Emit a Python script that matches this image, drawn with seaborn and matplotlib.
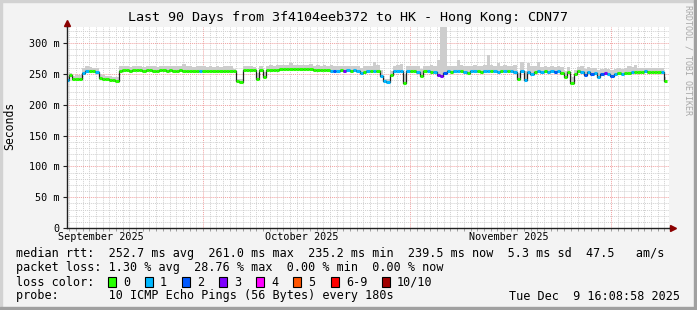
import numpy as np
import pandas as pd
import matplotlib
matplotlib.use("Agg")
import matplotlib.pyplot as plt
import matplotlib.dates as mdates
from matplotlib.ticker import MultipleLocator, FuncFormatter, NullFormatter
from matplotlib.patches import Rectangle
import seaborn as sns

# ---------------- data ----------------
START = pd.Timestamp("2025-09-10 16:08:58")
END = pd.Timestamp("2025-12-09 16:08:58")
STEP = "12h"

median_ms = [
    240, 248, 241, 242, 242, 252, 254, 255, 254, 253,
    244, 242, 241, 240, 240, 239, 255, 256, 256, 255,
    256, 256, 256, 255, 256, 256, 255, 255, 256, 256,
    255, 256, 255, 255, 256, 255, 254, 255, 255, 255,
    254, 254, 255, 255, 255, 255, 255, 255, 255, 255,
    254, 238, 237, 256, 256, 256, 256, 241, 256, 245,
    257, 257, 257, 257, 258, 258, 258, 258, 258, 258,
    258, 258, 258, 258, 257, 257, 257, 257, 257, 255,
    254, 255, 256, 254, 256, 255, 256, 254, 251, 253,
    255, 255, 255, 254, 246, 238, 237, 248, 254, 255,
    255, 235, 254, 255, 254, 253, 246, 254, 254, 253,
    253, 248, 247, 251, 254, 253, 254, 255, 254, 253,
    252, 254, 255, 254, 253, 254, 254, 255, 254, 253,
    254, 254, 255, 254, 253, 241, 254, 240, 253, 250,
    253, 254, 253, 254, 253, 254, 253, 254, 252, 245,
    253, 235, 249, 254, 253, 248, 253, 250, 252, 245,
    249, 252, 250, 246, 250, 251, 250, 252, 252, 253,
    253, 253, 253, 254, 253, 253, 253, 253, 253, 239,
]

loss_code = [
    1, 0, 0, 0, 0, 1, 1, 0, 0, 1,
    0, 0, 0, 0, 0, 0, 0, 0, 0, 0,
    0, 0, 0, 0, 0, 0, 0, 0, 0, 0,
    0, 0, 0, 0, 0, 0, 0, 0, 0, 0,
    1, 0, 0, 0, 0, 0, 0, 0, 0, 0,
    0, 0, 0, 0, 0, 0, 0, 0, 0, 0,
    0, 0, 0, 0, 0, 0, 0, 0, 0, 0,
    0, 0, 0, 0, 0, 0, 0, 0, 0, 1,
    2, 1, 0, 3, 1, 0, 1, 1, 1, 0,
    1, 0, 1, 0, 1, 1, 1, 0, 1, 1,
    1, 0, 1, 0, 0, 1, 0, 0, 1, 0,
    1, 3, 3, 2, 1, 0, 1, 1, 0, 1,
    0, 1, 1, 0, 0, 1, 1, 0, 1, 1,
    0, 1, 0, 1, 1, 0, 1, 1, 1, 1,
    0, 1, 1, 0, 1, 1, 2, 1, 0, 0,
    0, 0, 0, 0, 1, 2, 1, 2, 1, 1,
    2, 3, 1, 2, 1, 0, 1, 0, 0, 1,
    0, 0, 0, 1, 0, 0, 0, 0, 1, 0,
]

smoke_hi_ms = [
    246, 252, 247, 248, 248, 259, 262, 261, 260, 259,
    250, 248, 247, 246, 245, 245, 262, 263, 262, 261,
    262, 263, 262, 261, 262, 263, 262, 261, 262, 263,
    262, 262, 263, 262, 262, 266, 263, 262, 261, 262,
    263, 262, 261, 262, 261, 262, 261, 263, 262, 262,
    258, 241, 241, 262, 263, 262, 261, 252, 263, 253,
    263, 264, 263, 264, 265, 264, 265, 268, 264, 264,
    265, 264, 264, 266, 263, 264, 263, 264, 262, 264,
    263, 262, 263, 262, 263, 262, 263, 262, 260, 262,
    263, 262, 270, 265, 256, 242, 241, 254, 263, 264,
    266, 250, 262, 263, 262, 263, 258, 262, 263, 265,
    263, 272, 330, 330, 263, 262, 263, 272, 264, 263,
    262, 263, 264, 263, 262, 264, 281, 264, 263, 268,
    263, 264, 263, 262, 264, 252, 270, 255, 268, 262,
    262, 270, 261, 262, 261, 262, 261, 262, 261, 255,
    261, 245, 256, 261, 262, 258, 261, 259, 260, 256,
    258, 260, 258, 256, 258, 259, 258, 259, 262, 261,
    264, 260, 259, 260, 259, 260, 259, 260, 259, 245,
]

loss_labels = ["0", "1", "2", "3", "4", "5", "6-9", "10/10"]
loss_colors = ["#26ff00", "#00b8ff", "#0059ff", "#7e00ff", "#ff00ff",
               "#ff5500", "#ff0000", "#a10000"]

y_ticks_ms = [0, 50, 100, 150, 200, 250, 300]
month_labels = ["September 2025", "October 2025", "November 2025"]
month_label_pos = ["2025-09-15 18:00", "2025-10-15 18:00", "2025-11-15 18:00"]

title = "Last 90 Days from 3f4104eeb372 to HK - Hong Kong: CDN77"
legend_lines = [
    "median rtt:  252.7 ms avg  261.0 ms max  235.2 ms min  239.5 ms now  5.3 ms sd  47.5   am/s",
    "packet loss: 1.30 % avg  28.76 % max  0.00 % min  0.00 % now",
    "loss color:",
    "probe:       10 ICMP Echo Pings (56 Bytes) every 180s",
]
stamp = "Tue Dec  9 16:08:58 2025"

# ---------------- figure ----------------
sns.set_theme(style="white")
plt.rcParams['font.family'] = ['DejaVu Sans Mono']

W, H = 697, 310
fig = plt.figure(figsize=(W / 100, H / 100), dpi=100, facecolor="#f3f3f3")

def fx(px):
    return px / W

def fy(py):
    return 1 - py / H

# frame shading
fig.patches.append(Rectangle((0, fy(2)), 1, 2 / H, transform=fig.transFigure, color="#d2d2d2", zorder=0))
fig.patches.append(Rectangle((0, 0), 2 / W, 1, transform=fig.transFigure, color="#d2d2d2", zorder=0))
fig.patches.append(Rectangle((1 - 3 / W, 0), 3 / W, 1, transform=fig.transFigure, color="#a0a0a0", zorder=0))
fig.patches.append(Rectangle((0, 0), 1, 3 / H, transform=fig.transFigure, color="#a0a0a0", zorder=0))

ax = fig.add_axes([fx(67), fy(228), 602 / W, 201 / H])
ax.set_facecolor("white")

df = pd.DataFrame({
    "time": pd.date_range(START, periods=len(median_ms), freq=STEP),
    "median": median_ms,
    "hi": smoke_hi_ms,
    "loss": loss_code,
})

# smoke
ax.fill_between(df["time"], df["median"], df["hi"], step="mid",
                color="#cdcdcd", linewidth=0, zorder=2)

# dark median line
sns.lineplot(data=df, x="time", y="median", drawstyle="steps-mid",
             color="#202020", linewidth=0.9, ax=ax, zorder=3)

# loss-coloured median band
half = pd.Timedelta(STEP) / 2
ax.hlines(df["median"], df["time"] - half, df["time"] + half,
          colors=[loss_colors[c] for c in df["loss"]], linewidth=2.2, zorder=4)

ax.set_xlim(START, END)
ax.set_ylim(0, 326)

ax.yaxis.set_major_locator(MultipleLocator(50))
ax.yaxis.set_minor_locator(MultipleLocator(10))
ax.yaxis.set_major_formatter(FuncFormatter(lambda v, p: "0" if v == 0 else f"{int(v)} m"))
ax.xaxis.set_major_locator(mdates.MonthLocator())
ax.xaxis.set_minor_locator(mdates.DayLocator())
ax.xaxis.set_major_formatter(NullFormatter())
ax.set_xlabel("")
ax.set_ylabel("")

ax.grid(which="minor", color="#d0d0d0", linestyle=(0, (1, 1)), linewidth=0.7)
ax.grid(which="major", color="#f0a0a0", linestyle=(0, (1, 1)), linewidth=0.7)
ax.set_axisbelow(True)

ax.tick_params(axis="y", which="major", length=3, width=0.8, color="#202020",
               labelsize=7.3, pad=2.5, left=True, labelcolor="#000000")
ax.tick_params(axis="y", which="minor", length=0)
ax.tick_params(axis="x", which="both", length=2, width=0.6, color="#909090", bottom=True)

for s in ["top", "right"]:
    ax.spines[s].set_visible(False)
for s in ["left", "bottom"]:
    ax.spines[s].set_color("#202020")
    ax.spines[s].set_linewidth(1.0)
    ax.spines[s].set_zorder(5)

# axis arrows
ax.plot([0, 0], [1, 1.02], transform=ax.transAxes, color="#202020", lw=1.0, clip_on=False)
ax.plot([0], [1.022], transform=ax.transAxes, marker="^", ms=4.5, color="#8b0000",
        clip_on=False, mec="#8b0000")
ax.plot([1, 1.004], [0, 0], transform=ax.transAxes, color="#202020", lw=1.0, clip_on=False)
ax.plot([1.006], [0], transform=ax.transAxes, marker=">", ms=4.5, color="#8b0000",
        clip_on=False, mec="#8b0000")

for lab, pos in zip(month_labels, month_label_pos):
    ax.text(pd.Timestamp(pos), -0.045, lab, transform=ax.get_xaxis_transform(),
            ha="center", va="center", fontsize=7.3, color="#000000")

# texts
fig.text(0.5, fy(18), title, ha="center", va="center", fontsize=9.6, color="#000000")
fig.text(fx(10), fy(126), "Seconds", rotation=90, ha="center", va="center",
         fontsize=8.3, color="#000000")
fig.text(fx(688), fy(5), "RRDTOOL / TOBI OETIKER", rotation=270, ha="center", va="top",
         fontsize=6.0, color="#a8a8a8")

line_y = [254, 268, 282, 296]
for txt, yy in zip(legend_lines, line_y):
    fig.text(fx(16), fy(yy), txt, ha="left", va="center", fontsize=8.5, color="#000000")
fig.text(fx(680), fy(296), stamp, ha="right", va="center", fontsize=8.5, color="#000000")

box_x = [108, 145, 182, 219, 256, 293, 331, 382]
for bx, lab, col in zip(box_x, loss_labels, loss_colors):
    fig.patches.append(Rectangle((fx(bx), fy(287)), 8 / W, 10 / H, transform=fig.transFigure,
                                 facecolor=col, edgecolor="#000000", linewidth=0.8, zorder=3))
    fig.text(fx(bx + 15), fy(282), lab, ha="left", va="center", fontsize=8.5, color="#000000")

fig.savefig("out.png", dpi=100, facecolor=fig.get_facecolor())
